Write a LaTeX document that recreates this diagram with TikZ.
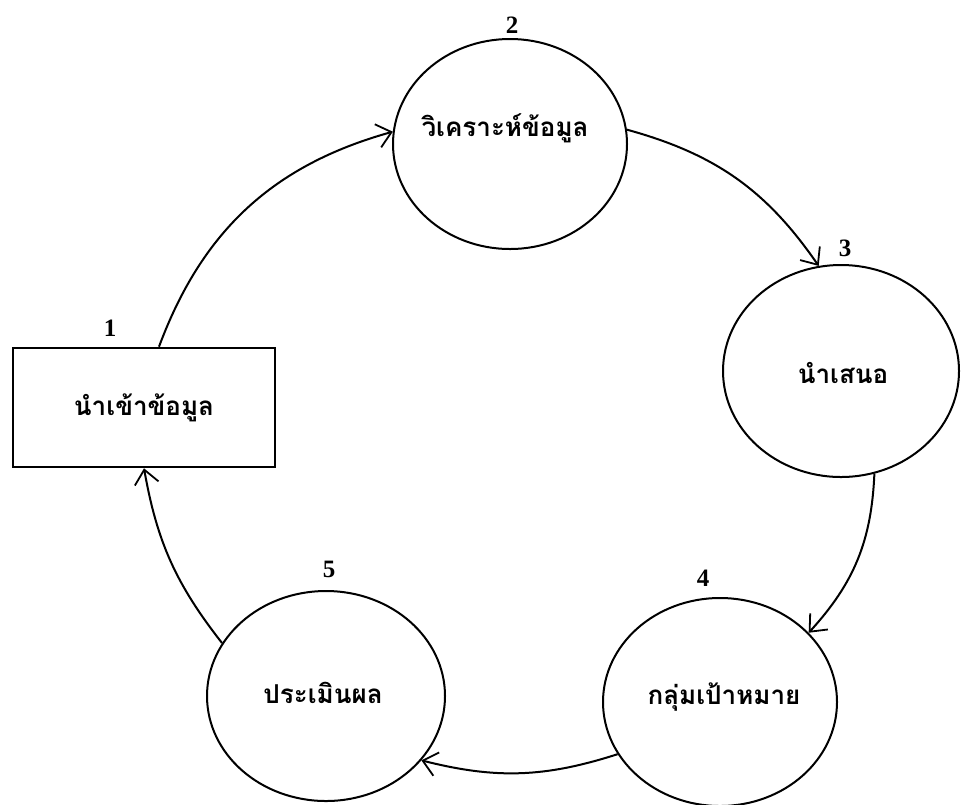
\documentclass[tikz,border=0pt]{standalone}
\usepackage{fontspec}
\setmainfont{Liberation Serif}
\newfontfamily\thaifont[Script=Thai]{Loma}
\usetikzlibrary{shapes.geometric,arrows.meta}
\begin{document}
\begin{tikzpicture}[x=1pt,y=-1pt,
  stage/.style={draw,ellipse,line width=2pt,inner sep=0pt},
  boxnode/.style={draw,rectangle,line width=2.6pt,inner sep=0pt},
  thai/.style={font=\thaifont\bfseries\fontsize{26}{30}\selectfont},
  num/.style={font=\bfseries\fontsize{25}{27}\selectfont},
  flow/.style={line width=2pt,-{Straight Barb[length=14pt,width=24pt,line width=1.8pt]}}]
\useasboundingbox[fill=white] (0,0) rectangle (965,804);
% stages
\node[boxnode,minimum width=262pt,minimum height=119pt] (r1) at (144,407.5) {};
\node[stage,minimum width=234pt,minimum height=210pt] (c2) at (510,144) {};
\node[stage,minimum width=236pt,minimum height=212pt] (c3) at (841,371) {};
\node[stage,minimum width=234pt,minimum height=208pt] (c4) at (720,702) {};
\node[stage,minimum width=238pt,minimum height=210pt] (c5) at (326,696) {};
% texts
\node[thai] (t1) at (144,408) {นำเข้าข้อมูล};
\node[thai] (t2) at (505,128) {วิเคราะห์ข้อมูล};
\node[thai] (t3) at (843,373) {นำเสนอ};
\node[thai] (t4) at (724,697) {กลุ่มเป้าหมาย};
\node[thai] (t5) at (323,693) {ประเมินผล};
% numbers
\node[num] (n1) at (110,328) {1};
\node[num] (n2) at (512,25) {2};
\node[num] (n3) at (845,248) {3};
\node[num] (n4) at (703,578) {4};
\node[num] (n5) at (329,569) {5};
% connectors
\draw[flow] ([xshift=15pt]r1.north) to[bend left=27] (c2.174);
\draw[flow] (c2.7) to[bend left=20] (c3.102);
\draw[flow] (c3.288) to[bend left=20] (c4.38);
\draw[flow] (c4.207) to[bend left=16] (c5.326);
\draw[flow] (c5.153) to[bend left=14] (r1.south);
\end{tikzpicture}
\end{document}
